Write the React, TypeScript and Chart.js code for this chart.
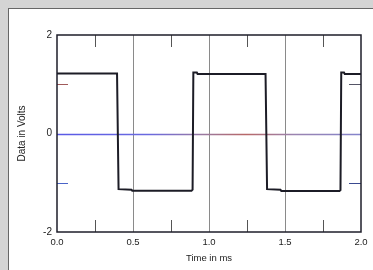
import React, { useEffect, useRef } from "react";
import { Chart, registerables } from "chart.js";

Chart.register(...registerables);

const timeMs = [0, 0.395, 0.405, 0.49, 0.495, 0.885, 0.892, 0.897, 0.92, 0.925, 1.372, 1.382, 1.47, 1.476, 1.858, 1.865, 1.87, 1.888, 1.893, 2.0];
const volts = [1.22, 1.22, -1.13, -1.14, -1.16, -1.16, -1.14, 1.24, 1.24, 1.21, 1.21, -1.13, -1.14, -1.17, -1.17, -1.15, 1.24, 1.24, 1.21, 1.21];
const zeroTime = [0, 2];
const zeroVolts = [0, 0];
const xTickLabels = ["0.0", "0.5", "1.0", "1.5", "2.0"];
const yTickLabels = ["-2", "0", "2"];
const xMinorTicks = [0.25, 0.75, 1.25, 1.75];
const yMinorTicks = [1, -1];
const yMinorLeftColors = ["#a05a5a", "#4a64c8"];
const yMinorRightColors = ["#555566", "#3a4a90"];

const zeroPlugin = {
  id: "zeroPlugin",
  beforeDatasetsDraw(chart: any) {
    const { ctx, scales } = chart;
    const x0 = scales.x.getPixelForValue(zeroTime[0]);
    const x1 = scales.x.getPixelForValue(zeroTime[1]);
    const y0 = Math.round(scales.y.getPixelForValue(zeroVolts[0])) + 0.5;
    const y1 = Math.round(scales.y.getPixelForValue(zeroVolts[1])) + 0.5;
    const g = ctx.createLinearGradient(x0, 0, x1, 0);
    g.addColorStop(0, "#5a5ae6");
    g.addColorStop(0.3, "#6a6ae0");
    g.addColorStop(0.48, "#9a7aa0");
    g.addColorStop(0.62, "#b86868");
    g.addColorStop(0.78, "#9a84b0");
    g.addColorStop(1, "#8484cc");
    ctx.save();
    ctx.strokeStyle = g;
    ctx.lineWidth = 1.3;
    ctx.beginPath();
    ctx.moveTo(x0, y0);
    ctx.lineTo(x1, y1);
    ctx.stroke();
    ctx.restore();
  },
};

const framePlugin = {
  id: "framePlugin",
  afterDatasetsDraw(chart: any) {
    const { ctx, chartArea, scales } = chart;
    const { left, right, top, bottom } = chartArea;
    ctx.save();
    ctx.lineWidth = 1;
    ctx.strokeStyle = "#555";
    xMinorTicks.forEach((t) => {
      const x = Math.round(scales.x.getPixelForValue(t)) + 0.5;
      ctx.beginPath();
      ctx.moveTo(x, top);
      ctx.lineTo(x, top + 12);
      ctx.moveTo(x, bottom);
      ctx.lineTo(x, bottom - 12);
      ctx.stroke();
    });
    yMinorTicks.forEach((v, i) => {
      const y = Math.round(scales.y.getPixelForValue(v)) + 0.5;
      ctx.strokeStyle = yMinorLeftColors[i];
      ctx.beginPath();
      ctx.moveTo(left, y);
      ctx.lineTo(left + 11, y);
      ctx.stroke();
      ctx.strokeStyle = yMinorRightColors[i];
      ctx.beginPath();
      ctx.moveTo(right, y);
      ctx.lineTo(right - 12, y);
      ctx.stroke();
    });
    ctx.strokeStyle = "#1e1e2a";
    ctx.lineWidth = 1.5;
    ctx.strokeRect(left, top, right - left, bottom - top);
    ctx.restore();
  },
};

export default function App() {
  const ref = useRef<HTMLCanvasElement>(null);
  useEffect(() => {
    document.body.style.background = "#d4d4d4";
    document.body.style.overflow = "hidden";
    document.documentElement.style.overflow = "hidden";
    const canvas = ref.current;
    if (!canvas) return;
    const chart = new Chart(canvas, {
      type: "scatter",
      data: {
        datasets: [
          {
            data: timeMs.map((t, i) => ({ x: t, y: volts[i] })),
            showLine: true,
            borderColor: "#1c1c26",
            borderWidth: 2,
            pointRadius: 0,
            tension: 0,
          },
        ],
      },
      options: {
        animation: false,
        responsive: false,
        maintainAspectRatio: false,
        layout: { padding: { left: 0, top: 26, right: 12, bottom: 0 } },
        plugins: { legend: { display: false }, tooltip: { enabled: false } },
        scales: {
          x: {
            type: "linear",
            min: 0,
            max: 2,
            border: { display: false },
            grid: {
              drawTicks: false,
              lineWidth: 1,
              color: (c: any) => (c.tick && (c.tick.value === 0 || c.tick.value === 2) ? "rgba(0,0,0,0)" : "#8a8a8a"),
            },
            ticks: {
              stepSize: 0.5,
              padding: 5,
              color: "#222",
              font: { family: "'Liberation Sans', Arial, sans-serif", size: 9.5 },
              maxRotation: 0,
              autoSkip: false,
              callback: (_v: any, i: number) => xTickLabels[i],
            },
            title: {
              display: true,
              text: "Time in ms",
              color: "#222",
              font: { family: "'Liberation Sans', Arial, sans-serif", size: 9.5 },
              padding: { top: 0, bottom: 6 },
            },
            afterFit: (s: any) => {
              s.height = 38;
              s.paddingLeft = 0;
              s.paddingRight = 0;
            },
          },
          y: {
            type: "linear",
            min: -2,
            max: 2,
            border: { display: false },
            grid: { display: false, drawTicks: false },
            ticks: {
              stepSize: 2,
              padding: 5,
              color: "#222",
              font: { family: "'Liberation Sans', Arial, sans-serif", size: 10 },
              callback: (_v: any, i: number) => yTickLabels[i],
            },
            title: {
              display: true,
              text: "Data in Volts",
              color: "#222",
              font: { family: "'Liberation Sans', Arial, sans-serif", size: 10 },
              padding: { top: 7, bottom: 0 },
            },
            afterFit: (s: any) => {
              s.width = 48;
              s.paddingTop = 0;
              s.paddingBottom = 0;
            },
          },
        },
      },
      plugins: [zeroPlugin, framePlugin],
    });
    return () => chart.destroy();
  }, []);
  return (
    <div
      style={{
        position: "fixed",
        left: 8,
        top: 8,
        right: 0,
        bottom: 0,
        boxSizing: "border-box",
        borderLeft: "1px solid #666",
        borderTop: "1px solid #666",
        background: "#fff",
        overflow: "hidden",
      }}
    >
      <canvas ref={ref} width={364} height={261} style={{ display: "block", width: 364, height: 261 }} />
    </div>
  );
}
